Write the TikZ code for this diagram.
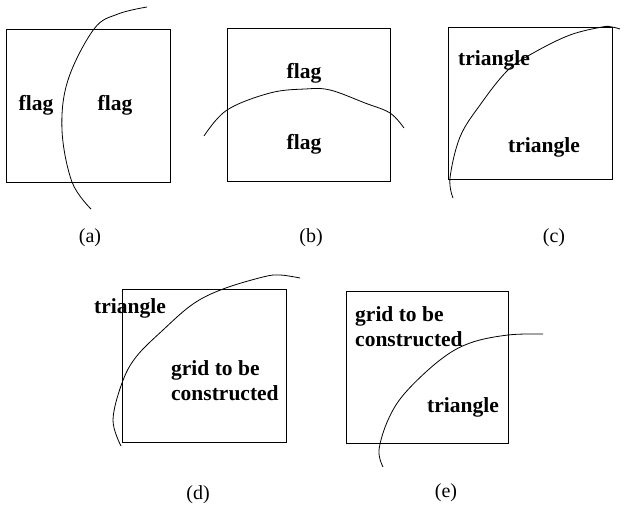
\documentclass[tikz,border=0pt]{standalone}
\usepackage{fontspec}
\setmainfont{Liberation Serif}
\usetikzlibrary{positioning}

\tikzset{
  cell/.style={draw=black, line width=0.9pt},
  cut/.style={draw=black, line width=0.8pt},
  word/.style={font=\bfseries\fontsize{21.5}{25}\selectfont, inner sep=0pt},
  tag/.style={font=\fontsize{20}{22}\selectfont, inner sep=0pt}
}

\begin{document}
\begin{tikzpicture}[x=1pt, y=-1pt]
        \useasboundingbox (0,0) rectangle (628,508);

        % (a) two flags
        \draw[cell] (6,29) rectangle (170,182);
        \draw[cut] plot[smooth, tension=0.6] coordinates {(147,7) (118,14) (94,29) (68,80) (62,130) (72,182) (91,209)};
        \node (flagAl) [word] at (36,105) {flag};
        \node (flagAr) [word] at (115,105) {flag};
        \node (capA) [tag] at (90,238) {(a)};

        % (b) two flags
        \draw[cell] (227,28) rectangle (390,181);
        \draw[cut] plot[smooth, tension=0.6] coordinates {(204,136) (227,110) (270,93) (305,89) (330,90) (365,103) (390,113) (404,128)};
        \node (flagBt) [word] at (304,73) {flag};
        \node (flagBb) [word] at (304,144) {flag};
        \node (capB) [tag] at (311,238) {(b)};

        % (c) two triangles
        \draw[cell] (448,27) rectangle (612,179);
        \draw[cut] plot[smooth, tension=0.6] coordinates {(453,198) (450,178) (460,137) (480,105) (508,70) (535,52) (570,35) (602,27) (612,27) (620,29)};
        \node (triCt) [word] at (494,60) {triangle};
        \node (triCb) [word] at (544,147) {triangle};
        \node (capC) [tag] at (554,238) {(c)};

        % (d) triangle and grid
        \draw[cell] (122,289) rectangle (286,442);
        \draw[cut] plot[smooth, tension=0.6] coordinates {(121,446) (113,420) (122,383) (136,357) (163,330) (193,304) (223,289) (263,277) (280,275) (300,278)};
        \node (triD) [word] at (130,308) {triangle};
        \node (gridD) [word, align=left, anchor=west] at (171,381) {grid to be\\constructed};
        \node (capD) [tag] at (198,495) {(d)};

        % (e) grid and triangle
        \draw[cell] (346,291) rectangle (508,443);
        \draw[cut] plot[smooth, tension=0.6] coordinates {(383,467) (379,450) (388,420) (405,393) (440,360) (470,343) (508,335) (543,334)};
        \node (gridE) [word, align=left, anchor=west] at (355,327) {grid to be\\constructed};
        \node (triE) [word] at (463,407) {triangle};
        \node (capE) [tag] at (446,493) {(e)};

    \end{tikzpicture}
\end{document}
